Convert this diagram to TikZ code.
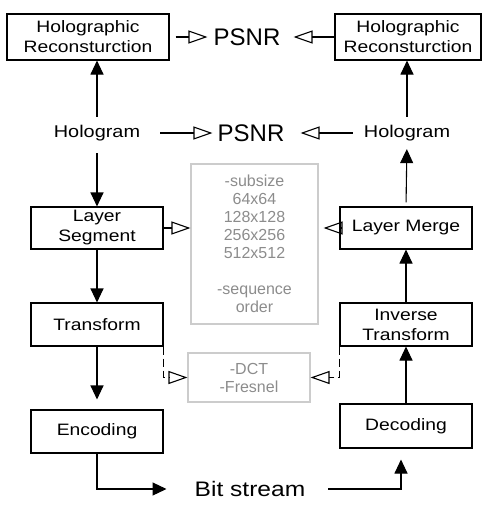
\documentclass[tikz,border=0pt]{standalone}
\usepackage{fontspec}
\setmainfont{Liberation Sans}
\newfontfamily\widefont[FakeStretch=1.17]{Liberation Sans}
\usetikzlibrary{arrows.meta}
\tikzstyle{process} = [rectangle, minimum width=132, minimum height=43, inner sep=0pt, align=center, draw=black, line width=1.1pt, font=\widefont\fontsize{16.5}{20}\selectfont]
\tikzstyle{term} = [inner sep=0pt, font=\widefont\fontsize{17}{20}\selectfont]
\tikzstyle{metric} = [inner sep=0pt, font=\fontsize{24}{28}\selectfont]
\tikzstyle{optbox} = [rectangle, inner sep=0pt, align=center, draw=black!20, line width=1.1pt, text=black!45, font=\fontsize{16}{18}\selectfont]
\tikzstyle{arrow} = [line width=1.1pt, -{Triangle[length=14pt, width=13pt]}]
\tikzstyle{openarrow} = [line width=1.1pt, -{Triangle[open, length=19pt, width=13pt]}]
\tikzstyle{dasharrow} = [openarrow, dash pattern=on 8pt off 4pt]

\begin{document}
\begin{tikzpicture}[x=1pt, y=-1pt]
\useasboundingbox (0, 0) rectangle (494, 506);
\node (node0) [process, minimum width=162, minimum height=46] at (88, 37) {Holographic\\Reconsturction};
\node (node1) [metric] at (247, 37) {PSNR};
\node (node2) [process, minimum width=146, minimum height=46] at (408, 37) {Holographic\\Reconsturction};
\draw [openarrow, shorten <=6pt, shorten >=6pt] (node0.east) -- (node1.west);
\draw [openarrow, shorten >=13pt] (node2.west) -- (node1.east);
\node (node3) [term] at (97, 133) {Hologram};
\node (node4) [metric] at (251, 133) {PSNR};
\node (node5) [term] at (407, 133) {Hologram};
\draw [openarrow, shorten <=20pt, shorten >=5pt] (node3.east) -- (node4.west);
\draw [openarrow, shorten <=11pt, shorten >=16pt] (node5.west) -- (node4.east);
\draw [arrow, shorten <=8pt] (node3.north) -- (node3.north |- node0.south);
\draw [arrow, shorten <=8pt] (node5.north) -- (node5.north |- node2.south);
\node (node6) [process, minimum height=42] at (97, 228) {Layer\\Segment};
\node (node7) [optbox, minimum width=127, minimum height=160] at (254.5, 244) {-subsize\\64x64\\128x128\\256x256\\512x512\\[18pt]-sequence\\order};
\node (node8) [process, minimum height=42] at (406, 228) {Layer Merge};
\draw [arrow, shorten <=12pt] (node3.south) -- (node6.north);
\draw [arrow, shorten <=4pt, shorten >=8pt] (node8.north) -- (node5.south);
\draw [openarrow] (node6.east) -- (node6.east -| node7.west);
\draw [openarrow, shorten >=5pt] (node8.west) -- (node8.west -| node7.east);
\node (node9) [process] at (97, 324.5) {Transform};
\node (node10) [process] at (406, 324.5) {Inverse\\Transform};
\draw [arrow] (node6) -- (node9);
\draw [arrow] (node10) -- (node8);
\node (node11) [optbox, minimum width=122, minimum height=49] at (249, 377.5) {-DCT\\-Fresnel};
\draw [dasharrow] (node9.south east) |- (node11.west);
\draw [dasharrow] (node10.south west) |- (node11.east);
\node (node12) [process] at (97, 431.5) {Encoding};
\node (node13) [process, minimum height=44] at (406, 426) {Decoding};
\draw [arrow, shorten >=10pt] (node9) -- (node12);
\draw [arrow] (node13) -- (node10);
\node (node14) [term, font=\widefont\fontsize{21}{24}\selectfont] at (250, 489) {Bit stream};
\draw [arrow, shorten >=28pt] (node12.south) |- (node14.west);
\draw [arrow, shorten <=23pt, shorten >=11pt] (node14.east) -| ([xshift=-5pt]node13.south);
\end{tikzpicture}
\end{document}
